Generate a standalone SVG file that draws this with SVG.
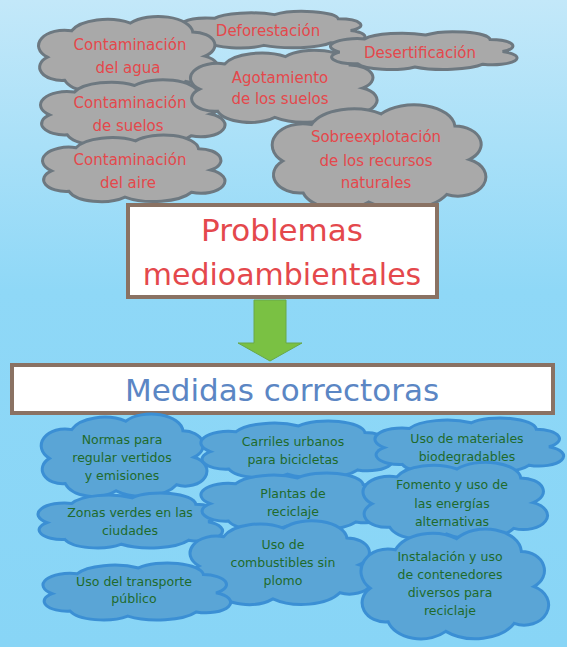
<svg xmlns="http://www.w3.org/2000/svg" xmlns:xlink="http://www.w3.org/1999/xlink" width="577" height="647" viewBox="0 0 577 647">
<defs>
<linearGradient id="bg" x1="0" y1="0" x2="0" y2="1">
<stop offset="0" stop-color="#c3e8f9"/>
<stop offset="0.45" stop-color="#8fd8f7"/>
<stop offset="1" stop-color="#88d5f6"/>
</linearGradient>
<path id="cloud" vector-effect="non-scaling-stroke" d="M -46 2 A 15 14 0 0 1 -32 -22 A 22 16 0 0 1 2 -29 A 20 15 0 0 1 38 -21 A 13 12 0 0 1 45 1 A 13 12 0 0 1 34 24 A 24 17 0 0 1 -4 29 A 19 15 0 0 1 -36 23 A 13 12 0 0 1 -46 2 Z"/>
<style>
.gray{fill:#a9a9a9;stroke:#6d7880;stroke-width:3}
.blue{fill:#5aa5d6;stroke:#3b8fd4;stroke-width:3}
.tr{font-family:"DejaVu Sans","Liberation Sans",sans-serif;font-size:15px;fill:#e4484c;text-anchor:middle}
.tg{font-family:"DejaVu Sans","Liberation Sans",sans-serif;font-size:12.5px;fill:#1f6a2c;text-anchor:middle}
.box{fill:#ffffff;stroke:#8a7263;stroke-width:4}
</style>
</defs>
<rect x="0" y="0" width="577" height="647" fill="#ffffff"/>
<rect x="0" y="0" width="567" height="647" fill="url(#bg)"/>

<g id="deforestacion"><use href="#cloud" class="gray" transform="translate(271,30) scale(1.77,0.53)"/><text class="tr" x="268" y="36">Deforestación</text></g>
<g id="contaminacion-agua"><use href="#cloud" class="gray" transform="translate(127,55) scale(1.73,1.1)"/><text class="tr" x="130" y="50">Contaminación</text><text class="tr" x="128" y="73">del agua</text></g>
<g id="contaminacion-suelos"><use href="#cloud" class="gray" transform="translate(131,113) scale(1.77,0.95)"/><text class="tr" x="130" y="108">Contaminación</text><text class="tr" x="128" y="131">de suelos</text></g>
<g id="contaminacion-aire"><use href="#cloud" class="gray" transform="translate(132,169) scale(1.75,0.97)"/><text class="tr" x="130" y="165">Contaminación</text><text class="tr" x="128" y="188">del aire</text></g>
<g id="agotamiento"><use href="#cloud" class="gray" transform="translate(282,87) scale(1.79,1.05)"/><text class="tr" x="280" y="83">Agotamiento</text><text class="tr" x="280" y="104">de los suelos</text></g>
<g id="desertificacion"><use href="#cloud" class="gray" transform="translate(422,51) scale(1.79,0.55)"/><text class="tr" x="420" y="58">Desertificación</text></g>
<g id="sobreexplotacion"><use href="#cloud" class="gray" transform="translate(377,158) scale(2.05,1.52)"/><text class="tr" x="376" y="142">Sobreexplotación</text><text class="tr" x="376" y="166">de los recursos</text><text class="tr" x="376" y="188">naturales</text></g>

<g id="problemas"><rect class="box" x="128" y="205" width="309" height="92"/><text x="282" y="241" font-family="DejaVu Sans, Liberation Sans, sans-serif" font-size="31" fill="#e4484c" text-anchor="middle">Problemas</text><text x="282" y="285" font-family="DejaVu Sans, Liberation Sans, sans-serif" font-size="30" fill="#e4484c" text-anchor="middle">medioambientales</text></g>

<g id="connectors"><polygon points="254,300 286,300 286,343 302,343 270,361 238,343 254,343" fill="#7ac143" stroke="#68a84a" stroke-width="1"/></g>

<g id="medidas"><rect class="box" x="12" y="365" width="541" height="48"/><text x="282" y="401" font-family="DejaVu Sans, Liberation Sans, sans-serif" font-size="31" fill="#5b86c4" text-anchor="middle">Medidas correctoras</text></g>

<g id="normas"><use href="#cloud" class="blue" transform="translate(122.5,456) scale(1.59,1.2)"/><text class="tg" x="122" y="444">Normas para</text><text class="tg" x="122" y="462">regular vertidos</text><text class="tg" x="122" y="480">y emisiones</text></g>
<g id="carriles"><use href="#cloud" class="blue" transform="translate(295,450) scale(1.84,0.83)"/><text class="tg" x="293" y="446">Carriles urbanos</text><text class="tg" x="293" y="464">para bicicletas</text></g>
<g id="materiales"><use href="#cloud" class="blue" transform="translate(467.5,446) scale(1.81,0.8)"/><text class="tg" x="467" y="443">Uso de materiales</text><text class="tg" x="467" y="461">biodegradables</text></g>
<g id="zonas"><use href="#cloud" class="blue" transform="translate(128.5,521) scale(1.77,0.8)"/><text class="tg" x="130" y="517">Zonas verdes en las</text><text class="tg" x="130" y="535">ciudades</text></g>
<g id="plantas"><use href="#cloud" class="blue" transform="translate(294,502) scale(1.82,0.83)"/><text class="tg" x="293" y="498">Plantas de</text><text class="tg" x="293" y="516">reciclaje</text></g>
<g id="fomento"><use href="#cloud" class="blue" transform="translate(453.5,501.5) scale(1.77,1.12)"/><text class="tg" x="452" y="489">Fomento y uso de</text><text class="tg" x="452" y="508">las energías</text><text class="tg" x="452" y="526">alternativas</text></g>
<g id="combustibles"><use href="#cloud" class="blue" transform="translate(280,563.5) scale(1.76,1.22)"/><text class="tg" x="283" y="549">Uso de</text><text class="tg" x="283" y="567">combustibles sin</text><text class="tg" x="283" y="585">plomo</text></g>
<g id="transporte"><use href="#cloud" class="blue" transform="translate(135,592) scale(1.8,0.83)"/><text class="tg" x="134" y="586">Uso del transporte</text><text class="tg" x="134" y="603">público</text></g>
<g id="instalacion"><use href="#cloud" class="blue" transform="translate(453,585) scale(1.8,1.6)"/><text class="tg" x="450" y="561">Instalación y uso</text><text class="tg" x="450" y="579">de contenedores</text><text class="tg" x="450" y="597">diversos para</text><text class="tg" x="450" y="615">reciclaje</text></g>
</svg>
